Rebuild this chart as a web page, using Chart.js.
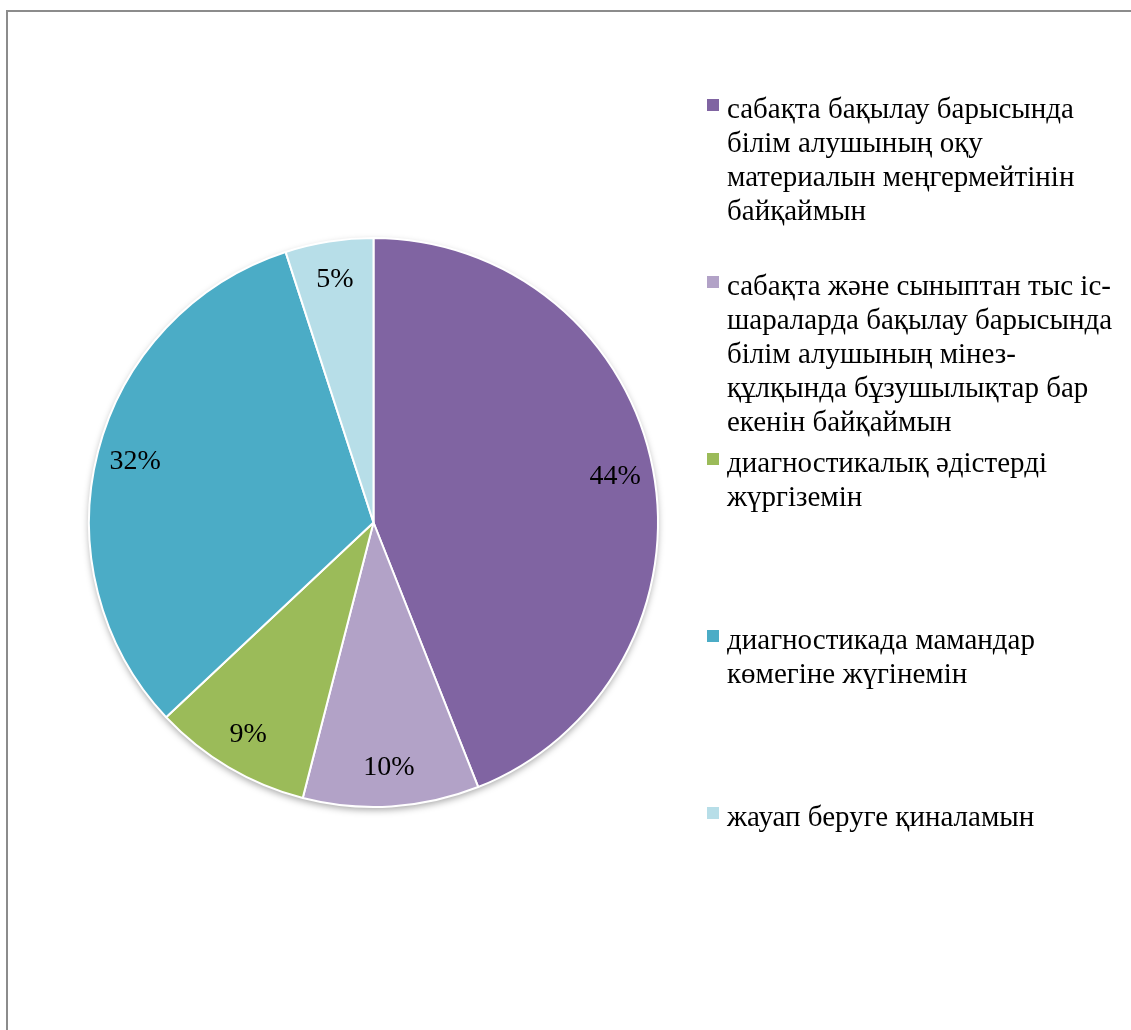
<!DOCTYPE html>
<html>
<head>
<meta charset="utf-8">
<script src="https://cdn.jsdelivr.net/npm/chart.js@4"></script>
<style>
  html, body { margin: 0; padding: 0; background: #fff; }
  #wrap { position: relative; width: 1131px; height: 1030px; overflow: hidden; }
  #frame {
    position: absolute; left: 6px; top: 10px; width: 1200px; height: 1100px;
    border-top: 2px solid #8c8c8c; border-left: 2px solid #8c8c8c;
  }
  #box { position: absolute; left: 0; top: 0; width: 1131px; height: 1030px; }
  #legend { position: absolute; left: 707px; top: 93px; }
  .item { position: relative; height: 177px; }
  .mark { position: absolute; left: 0; top: 6px; width: 12px; height: 12px; }
  .txt {
    position: absolute; left: 20px; top: -2px;
    font-family: "Liberation Serif", "DejaVu Serif", serif;
    font-size: 29px; line-height: 34px; color: #000; white-space: nowrap;
  }
</style>
</head>
<body>
<div id="wrap">
  <div id="frame"></div>
  <div id="box"><canvas id="myChart"></canvas></div>
  <div id="legend"></div>
</div>
<script>
// legend labels, one string per printed line
let labels = [
  ["сабақта бақылау барысында", "білім алушының оқу", "материалын меңгермейтінін", "байқаймын"],
  ["сабақта және сыныптан тыс іс-", "шараларда бақылау барысында", "білім алушының мінез-", "құлқында бұзушылықтар бар", "екенін байқаймын"],
  ["диагностикалық әдістерді", "жүргіземін"],
  ["диагностикада мамандар", "көмегіне жүгінемін"],
  ["жауап беруге қиналамын"]
];
let valori = [44, 10, 9, 32, 5];
let colori = ["#8064A2", "#B2A2C7", "#9BBB59", "#4BACC6", "#B7DEE8"];

// legend built as html so the text wraps like the original
let legendDiv = document.getElementById("legend");
labels.forEach((righe, i) => {
  let item = document.createElement("div");
  item.classList.add("item");
  let mark = document.createElement("div");
  mark.classList.add("mark");
  mark.style.background = colori[i];
  let txt = document.createElement("div");
  txt.classList.add("txt");
  txt.innerHTML = righe.join("<br>");
  item.appendChild(mark);
  item.appendChild(txt);
  legendDiv.appendChild(item);
});

// soft shadow under the pie
const ombra = {
  id: "ombra",
  beforeDatasetsDraw(chart) {
    let arc = chart.getDatasetMeta(0).data[0];
    if (!arc) return;
    let ctx = chart.ctx;
    ctx.save();
    ctx.beginPath();
    ctx.arc(arc.x, arc.y, arc.outerRadius, 0, Math.PI * 2);
    ctx.fillStyle = "#fff";
    ctx.shadowColor = "rgba(0,0,0,0.35)";
    ctx.shadowBlur = 7;
    ctx.shadowOffsetX = 0;
    ctx.shadowOffsetY = 3;
    ctx.fill();
    ctx.restore();
  },
};

// percent labels inside the slices
const etichette = {
  id: "etichette",
  afterDatasetsDraw(chart) {
    let ctx = chart.ctx;
    let meta = chart.getDatasetMeta(0);
    ctx.save();
    ctx.font = '28px "Liberation Serif", serif';
    ctx.fillStyle = "#000";
    ctx.textAlign = "center";
    ctx.textBaseline = "middle";
    meta.data.forEach((arc, i) => {
      let mid = (arc.startAngle + arc.endAngle) / 2;
      let r = arc.outerRadius * 0.865;
      ctx.fillText(valori[i] + "%", arc.x + Math.cos(mid) * r, arc.y + Math.sin(mid) * r);
    });
    ctx.restore();
  },
};

const ctx = document.getElementById("myChart");

new Chart(ctx, {
  type: "pie",
  data: {
    labels: labels.map((l) => l.join(" ")),
    datasets: [
      {
        data: valori,
        backgroundColor: colori,
        borderColor: "#fff",
        borderWidth: 2,
      },
    ],
  },
  options: {
    responsive: true,
    maintainAspectRatio: false,
    animation: false,
    events: [],
    layout: {
      padding: { left: 88, right: 472, top: 237, bottom: 222 },
    },
    plugins: {
      legend: { display: false },
      tooltip: { enabled: false },
    },
  },
  plugins: [ombra, etichette],
});
</script>
</body>
</html>
